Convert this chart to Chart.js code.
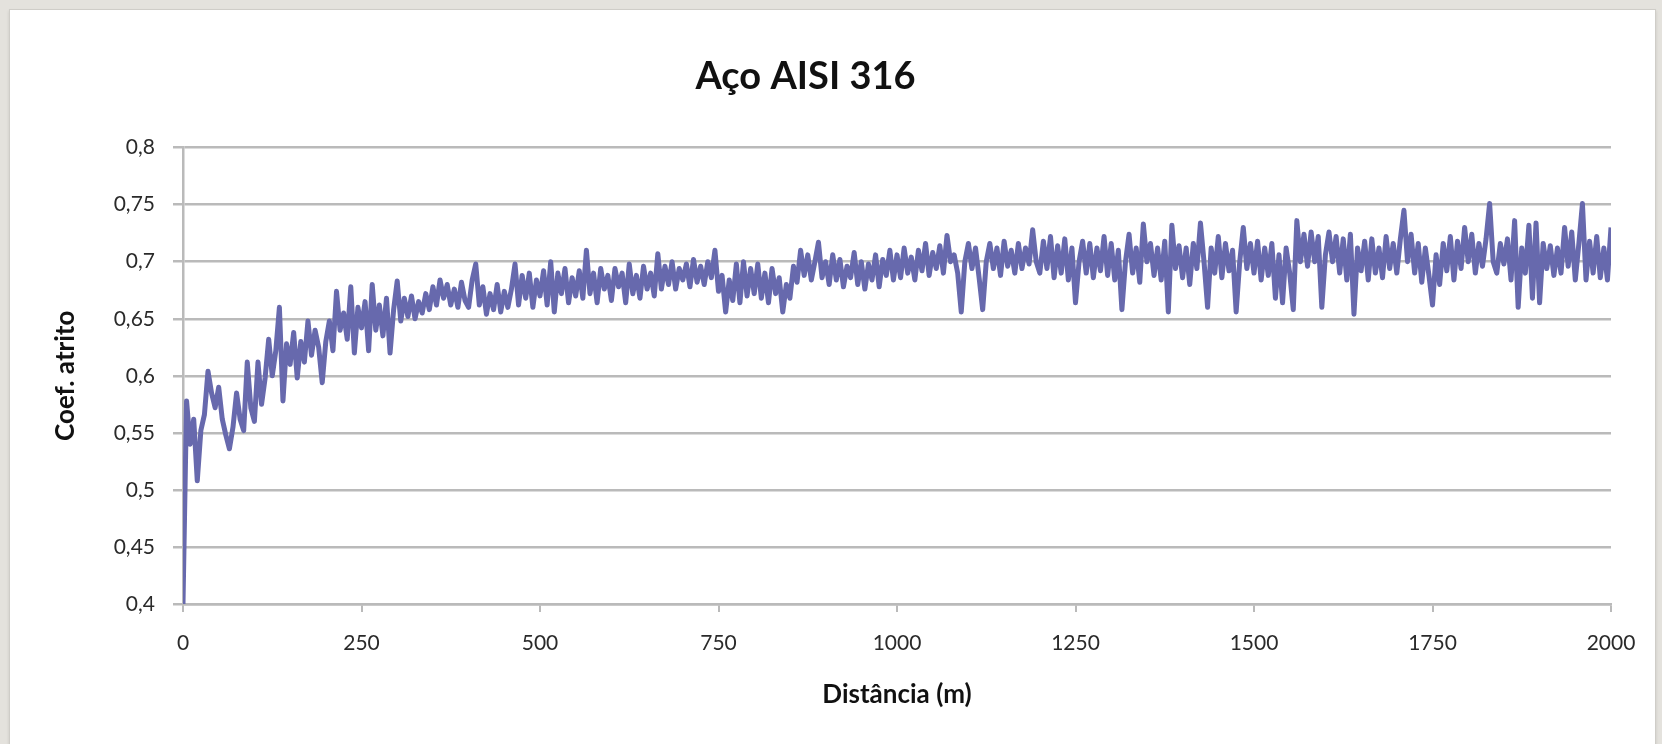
<!DOCTYPE html>
<html>
<head>
<meta charset="utf-8">
<title>Aço AISI 316</title>
<script src="https://cdn.jsdelivr.net/npm/chart.js@4.4.1/dist/chart.umd.min.js"></script>
<style>
    html, body {
        margin: 0;
        padding: 0;
        width: 1662px;
        height: 744px;
        overflow: hidden;
        background: #e4e2dd;
    }
    .card {
        position: absolute;
        left: 9px;
        top: 9px;
        width: 1645px;
        height: 740px;
        background: #fff;
        border: 1px solid #cfcdc8;
        box-shadow: 0 2px 3px rgba(0, 0, 0, 0.12);
    }
    #atritoChart {
        position: absolute;
        left: 0;
        top: 0;
    }
</style>
</head>
<body>
<div class="card"></div>
<canvas id="atritoChart" width="1662" height="744"></canvas>
<script>
// coeficiente de atrito medido a cada 5 m de distância percorrida
const distStep = 5;
const coefAtrito = [
    // 0 - 95 m
    0.400, 0.578, 0.540, 0.562, 0.508, 0.552, 0.566, 0.604, 0.585, 0.572, 0.590, 0.562, 0.548, 0.536, 0.555, 0.585, 0.562, 0.552, 0.612, 0.572,
    // 100 - 195 m
    0.560, 0.612, 0.575, 0.598, 0.632, 0.600, 0.622, 0.660, 0.578, 0.628, 0.610, 0.638, 0.598, 0.630, 0.612, 0.648, 0.618, 0.640, 0.625, 0.594,
    // 200 - 295 m
    0.630, 0.648, 0.622, 0.674, 0.640, 0.655, 0.632, 0.678, 0.620, 0.660, 0.642, 0.665, 0.622, 0.680, 0.640, 0.662, 0.635, 0.668, 0.620, 0.658,
    // 300 - 395 m
    0.683, 0.648, 0.668, 0.652, 0.670, 0.650, 0.665, 0.655, 0.672, 0.658, 0.678, 0.662, 0.684, 0.668, 0.680, 0.662, 0.676, 0.660, 0.682, 0.666,
    // 400 - 495 m
    0.660, 0.684, 0.698, 0.662, 0.678, 0.654, 0.672, 0.658, 0.680, 0.656, 0.674, 0.660, 0.676, 0.698, 0.662, 0.688, 0.668, 0.690, 0.660, 0.684,
    // 500 - 595 m
    0.670, 0.692, 0.662, 0.700, 0.656, 0.690, 0.672, 0.694, 0.664, 0.686, 0.670, 0.692, 0.668, 0.710, 0.672, 0.690, 0.664, 0.694, 0.676, 0.688,
    // 600 - 695 m
    0.666, 0.694, 0.678, 0.690, 0.664, 0.698, 0.672, 0.688, 0.668, 0.696, 0.676, 0.690, 0.670, 0.707, 0.676, 0.696, 0.680, 0.700, 0.676, 0.694,
    // 700 - 795 m
    0.684, 0.698, 0.678, 0.702, 0.682, 0.696, 0.680, 0.700, 0.686, 0.710, 0.674, 0.688, 0.656, 0.684, 0.666, 0.698, 0.664, 0.700, 0.670, 0.694,
    // 800 - 895 m
    0.672, 0.698, 0.668, 0.690, 0.664, 0.694, 0.672, 0.686, 0.656, 0.680, 0.668, 0.696, 0.682, 0.710, 0.688, 0.706, 0.684, 0.700, 0.717, 0.686,
    // 900 - 995 m
    0.700, 0.680, 0.706, 0.684, 0.702, 0.678, 0.696, 0.686, 0.708, 0.680, 0.700, 0.676, 0.698, 0.684, 0.706, 0.678, 0.702, 0.688, 0.710, 0.684,
    // 1000 - 1095 m
    0.706, 0.686, 0.712, 0.690, 0.704, 0.684, 0.710, 0.692, 0.716, 0.688, 0.708, 0.694, 0.714, 0.690, 0.723, 0.700, 0.706, 0.690, 0.656, 0.700,
    // 1100 - 1195 m
    0.716, 0.694, 0.712, 0.686, 0.658, 0.700, 0.716, 0.694, 0.712, 0.688, 0.718, 0.696, 0.710, 0.690, 0.716, 0.694, 0.712, 0.698, 0.728, 0.700,
    // 1200 - 1295 m
    0.690, 0.718, 0.694, 0.722, 0.686, 0.714, 0.690, 0.720, 0.684, 0.712, 0.664, 0.700, 0.718, 0.690, 0.716, 0.686, 0.712, 0.692, 0.722, 0.688,
    // 1300 - 1395 m
    0.716, 0.684, 0.710, 0.658, 0.700, 0.724, 0.690, 0.712, 0.682, 0.733, 0.700, 0.716, 0.688, 0.712, 0.684, 0.718, 0.656, 0.732, 0.694, 0.714,
    // 1400 - 1495 m
    0.686, 0.712, 0.680, 0.716, 0.694, 0.734, 0.700, 0.660, 0.712, 0.690, 0.722, 0.686, 0.716, 0.692, 0.710, 0.656, 0.700, 0.730, 0.694, 0.716,
    // 1500 - 1595 m
    0.690, 0.718, 0.684, 0.712, 0.688, 0.716, 0.668, 0.706, 0.664, 0.712, 0.690, 0.658, 0.736, 0.700, 0.724, 0.696, 0.726, 0.700, 0.722, 0.660,
    // 1600 - 1695 m
    0.706, 0.726, 0.700, 0.722, 0.690, 0.720, 0.684, 0.724, 0.654, 0.712, 0.692, 0.718, 0.684, 0.720, 0.690, 0.712, 0.686, 0.722, 0.694, 0.716,
    // 1700 - 1795 m
    0.690, 0.720, 0.745, 0.700, 0.724, 0.690, 0.716, 0.682, 0.712, 0.688, 0.662, 0.706, 0.680, 0.716, 0.692, 0.722, 0.684, 0.718, 0.694, 0.730,
    // 1800 - 1895 m
    0.700, 0.724, 0.690, 0.716, 0.696, 0.720, 0.751, 0.700, 0.690, 0.716, 0.698, 0.720, 0.684, 0.736, 0.660, 0.712, 0.690, 0.732, 0.668, 0.734,
    // 1900 - 2000 m
    0.664, 0.716, 0.694, 0.714, 0.688, 0.712, 0.690, 0.730, 0.696, 0.726, 0.684, 0.716, 0.751, 0.684, 0.718, 0.690, 0.722, 0.686, 0.712, 0.684, 0.730
];
const distancias = coefAtrito.map((_, i) => i * distStep);

const xTicks = [0, 250, 500, 750, 1000, 1250, 1500, 1750, 2000];
const yTicks = [0.4, 0.45, 0.5, 0.55, 0.6, 0.65, 0.7, 0.75, 0.8];

const FONT = 'Lato, "Open Sans", sans-serif';
const GRID = '#bababa';

const ctx = document.getElementById('atritoChart').getContext('2d');

new Chart(ctx, {
    type: 'line',
    data: {
        datasets: [{
            label: 'Coef. atrito',
            data: distancias.map((d, i) => ({ x: d, y: coefAtrito[i] })),
            borderColor: '#6769ad',
            borderWidth: 5,
            borderJoinStyle: 'round',
            pointRadius: 0,
            tension: 0,
            fill: false
        }]
    },
    options: {
        responsive: false,
        animation: false,
        layout: { padding: { left: 0, right: 51, top: 0, bottom: 0 } },
        plugins: {
            legend: { display: false },
            tooltip: { enabled: false },
            title: {
                display: true,
                text: 'Aço AISI 316',
                color: '#111',
                font: { family: FONT, size: 38, weight: 'bold' },
                padding: { top: 54, bottom: 48 }
            }
        },
        scales: {
            x: {
                type: 'linear',
                min: 0,
                max: 2000,
                afterBuildTicks: s => { s.ticks = xTicks.map(v => ({ value: v })); },
                afterFit: s => { s.height = 140; },
                ticks: {
                    color: '#2a2a2a',
                    font: { family: FONT, size: 21 },
                    padding: 19,
                    maxRotation: 0,
                    callback: v => String(v)
                },
                grid: {
                    drawOnChartArea: false,
                    drawTicks: true,
                    tickLength: 8,
                    color: GRID,
                    lineWidth: 2
                },
                border: { display: true, color: GRID, width: 2.5 },
                title: {
                    display: true,
                    text: 'Distância (m)',
                    color: '#111',
                    font: { family: FONT, size: 26, weight: 'bold' },
                    padding: { top: 0, bottom: 34 }
                }
            },
            y: {
                min: 0.4,
                max: 0.8,
                afterBuildTicks: s => { s.ticks = yTicks.map(v => ({ value: v })); },
                afterFit: s => { s.width = 183; },
                ticks: {
                    color: '#2a2a2a',
                    font: { family: FONT, size: 21 },
                    padding: 18,
                    callback: v => String(Number(v.toFixed(2))).replace('.', ',')
                },
                grid: {
                    color: GRID,
                    lineWidth: 2.5,
                    drawTicks: true,
                    tickLength: 10
                },
                border: { display: true, color: GRID, width: 2.5 },
                title: {
                    display: true,
                    text: 'Coef. atrito',
                    color: '#111',
                    font: { family: FONT, size: 26, weight: 'bold' },
                    padding: { top: 50, bottom: 0 }
                }
            }
        }
    }
});
</script>
</body>
</html>
